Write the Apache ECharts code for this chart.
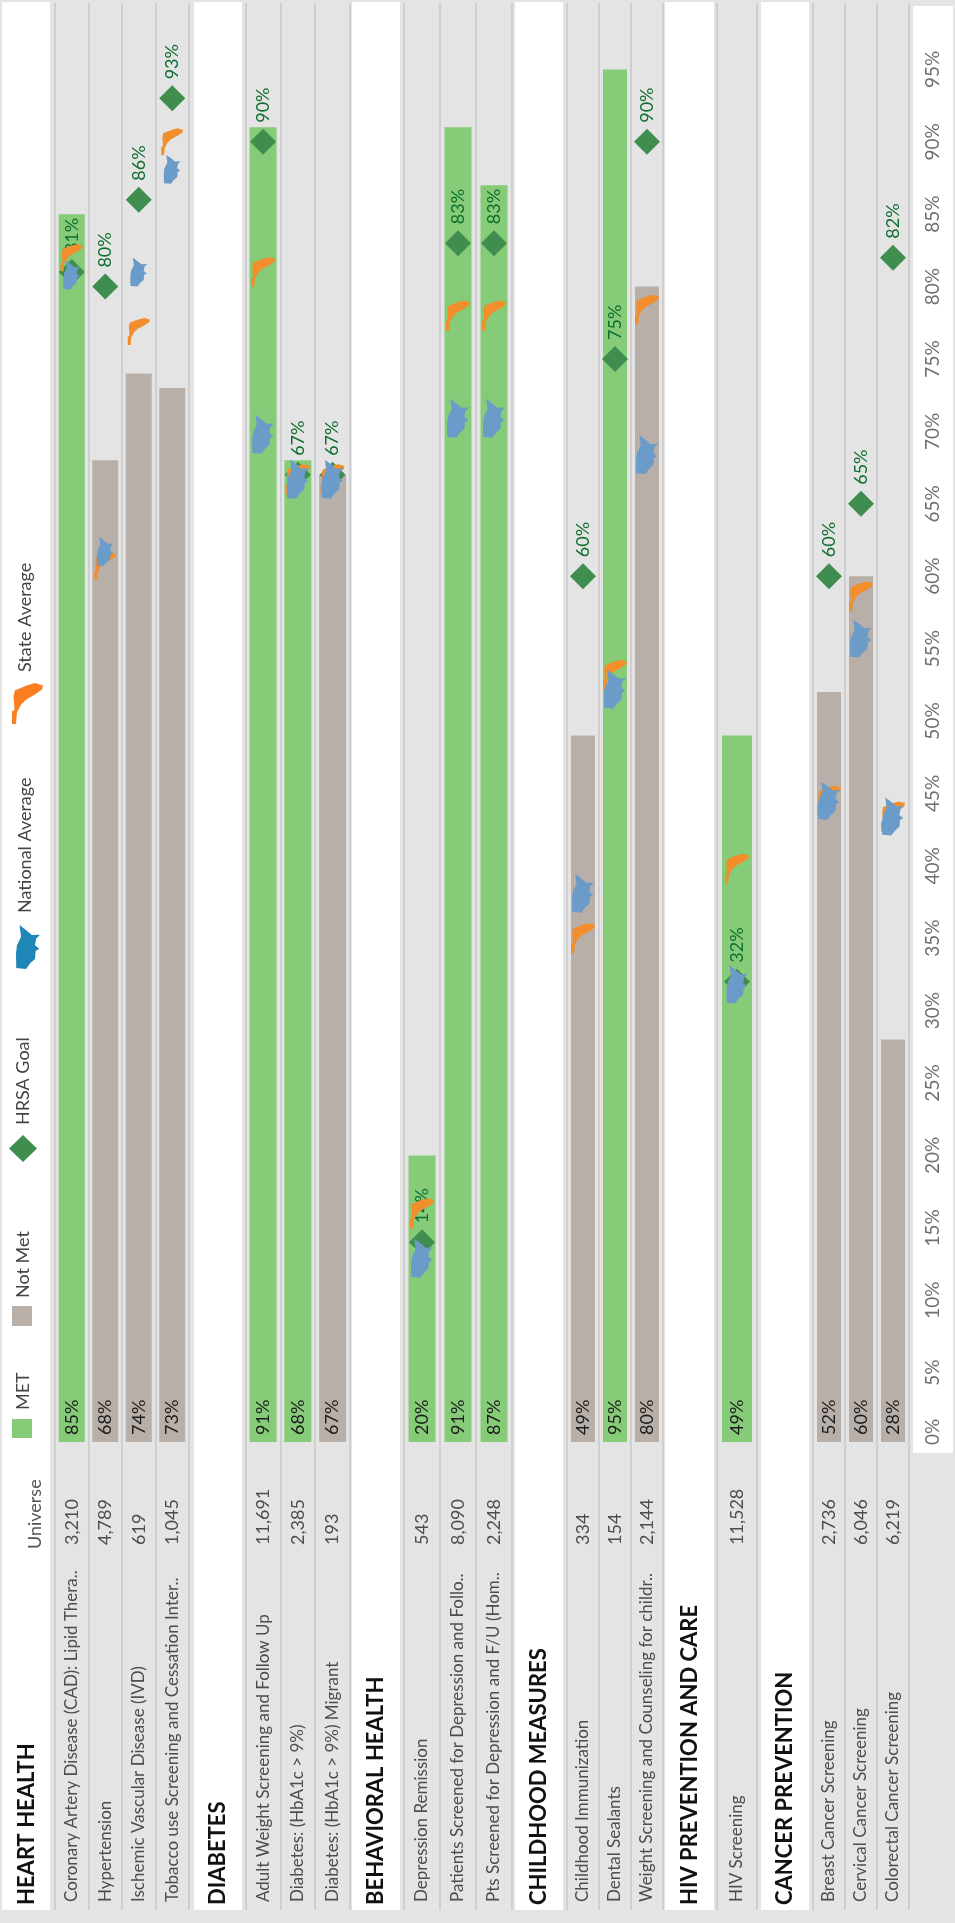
<!DOCTYPE html>
<html>
<head>
<meta charset="utf-8">
<title>Clinical quality measures</title>
<style>html,body{margin:0;padding:0;background:#e4e4e4}#chart{width:955px;height:1923px}</style>
<script src="https://cdn.jsdelivr.net/npm/echarts@6/dist/echarts.min.js"></script>
</head>
<body>
<div id="chart"></div>
<script>
// Measures, grouped by section (rowCounts says how many rows each section takes)
const sectionNames = ['HEART HEALTH','DIABETES','BEHAVIORAL HEALTH','CHILDHOOD MEASURES','HIV PREVENTION AND CARE','CANCER PREVENTION'];
const rowCounts = [4,3,3,3,1,3];
const measures = ['Coronary Artery Disease (CAD): Lipid Thera..','Hypertension','Ischemic Vascular Disease (IVD)','Tobacco use Screening and Cessation Inter..',
  'Adult Weight Screening and Follow Up','Diabetes: (HbA1c > 9%)','Diabetes: (HbA1c > 9%) Migrant',
  'Depression Remission','Patients Screened for Depression and Follo..','Pts Screened for Depression and F/U (Hom..',
  'Childhood Immunization','Dental Sealants','Weight Screening and Counseling for childr..',
  'HIV Screening',
  'Breast Cancer Screening','Cervical Cancer Screening','Colorectal Cancer Screening'];
const universe = ['3,210','4,789','619','1,045','11,691','2,385','193','543','8,090','2,248','334','154','2,144','11,528','2,736','6,046','6,219'];
const rates = [85,68,74,73,91,68,67,20,91,87,49,95,80,49,52,60,28];
const metGoal = [1,0,0,0,1,1,0,1,1,1,0,1,0,1,0,0,0];
const goals = [81,80,86,93,90,67,67,14,83,83,60,75,90,32,60,65,82];
const nationalAvg = [80.8,61.7,81,88.1,69.8,66.7,66.7,12.9,70.9,70.9,38.1,52.2,68.4,31.8,44.5,55.7,43.4];
const stateAvg = [82,60.7,76.9,90,81,66.7,66.7,16,78,78,35,53.2,78.4,39.8,44.5,58.6,43.4];
const percentTicks = {min:0, step:5};

// Pixel layout of the section panels
const rowEdges = [[55,189],[245.7,350],[404,512],[567,663],[717,757],[813,909]];
const barWidths = [26,27,27,24,30,24];
const headerX = [27,218,376,539,690,785];
const whiteBands = [[2,50],[194,242],[352,400],[515,563],[665,714],[761,809]];
const nationalSizes = [[17,29],[22,39],[22,39],[22,39],[21,38],[22,38]];
const stateSizes = [[22,27],[24,30],[24,30],[24,30],[24,30],[24,30]];

const GREEN='#85cb78', TAUPE='#b8afa9', DIAMOND='#3f8e4f', GOALTEXT='#0e6e2e';
const BLUE='#6b9cc9', ORANGE='#f28e2b', LEGEND_BLUE='#1f86b8', LEGEND_ORANGE='#fc7e22';
const FONT='Lato';

// Map silhouettes used as markers, on their side like the rest of the layout
const usaShape=[[15,0],[45,13],[66,23],[100,22],[84,31],[79,46],[97,54],[82,59],[79,77],[59,87],[42,100],[1,98],[0,65],[4,46],[21,27]];
const floridaShape=[[100,6],[74,0],[47,6],[9,18],[5,33],[8,66],[0,69],[0,100],[13,100],[16,72],[30,52],[46,40],[74,28],[97,16]];
const toSymbol=s=>'path://M'+s.map(p=>p.join(' ')).join('L')+'Z';
const fitShape=(s,x,y,w,h)=>s.map(p=>[x+p[0]/100*w, y+p[1]/100*h]);
const usaPath=toSymbol(usaShape), floridaPath=toSymbol(floridaShape);

const PX=14.48, ZERO_Y=1445, BAR_BASE_Y=1442, TOP_Y=3;
const valueMax=(ZERO_Y-TOP_Y)/PX, barMin=(ZERO_Y-BAR_BASE_Y)/PX;

const grid=[], xAxis=[], yAxis=[], series=[];
let start=0;
rowCounts.forEach((n,s)=>{
  const end=start+n;
  const idx=s, ax=s*2;
  grid.push({left:rowEdges[s][0], width:rowEdges[s][1]-rowEdges[s][0], top:TOP_Y, height:BAR_BASE_Y-TOP_Y, containLabel:false});
  xAxis.push({
    type:'category', gridIndex:idx, data:measures.slice(start,end), position:'bottom',
    axisLine:{show:false},
    axisTick:{show:true, length:468, lineStyle:{color:'#cfcfcf', width:2}},
    splitLine:{show:true, lineStyle:{color:'#cfcfcf', width:2}},
    axisLabel:{interval:0, rotate:90, align:'left', verticalAlign:'middle', margin:460, color:'#4d4d4d', fontFamily:FONT, fontSize:17}
  });
  xAxis.push({
    type:'category', gridIndex:idx, data:universe.slice(start,end), position:'bottom',
    axisLine:{show:false}, axisTick:{show:false}, splitLine:{show:false},
    axisLabel:{interval:0, rotate:90, align:'left', verticalAlign:'middle', margin:103, color:'#4d4d4d', fontFamily:FONT, fontSize:18}
  });
  yAxis.push({type:'value', gridIndex:idx, min:barMin, max:valueMax, show:false, splitLine:{show:false}});
  const barData=rates.slice(start,end).map((v,i)=>({value:v, itemStyle:{color:metGoal[start+i]?GREEN:TAUPE}}));
  series.push({
    type:'bar', name:sectionNames[s]+' rate', xAxisIndex:ax, yAxisIndex:idx, data:barData, barWidth:barWidths[s], z:2,
    label:{show:true, position:'insideBottom', distance:7, rotate:90, align:'left', verticalAlign:'middle', formatter:'{c}%', color:'#1c1c1c', fontFamily:FONT, fontSize:18}
  });
  series.push({
    type:'scatter', name:'HRSA Goal', xAxisIndex:ax, yAxisIndex:idx, data:goals.slice(start,end), symbol:'diamond', symbolSize:26, z:3,
    itemStyle:{color:DIAMOND, opacity:1},
    label:{show:true, position:'top', distance:6, rotate:90, align:'left', verticalAlign:'middle', formatter:'{c}%', color:GOALTEXT, fontFamily:FONT, fontSize:18}
  });
  series.push({
    type:'scatter', name:'State Average', xAxisIndex:ax, yAxisIndex:idx, data:stateAvg.slice(start,end), symbol:floridaPath, symbolSize:stateSizes[s], z:4,
    itemStyle:{color:ORANGE, opacity:1}
  });
  series.push({
    type:'scatter', name:'National Average', xAxisIndex:ax, yAxisIndex:idx, data:nationalAvg.slice(start,end), symbol:usaPath, symbolSize:nationalSizes[s], z:5,
    itemStyle:{color:BLUE, opacity:1}
  });
  start=end;
});

// Shared percent scale in the white box at the right edge
const scaleGrid=grid.length;
grid.push({left:940, width:13, top:TOP_Y, height:ZERO_Y-TOP_Y});
xAxis.push({type:'category', gridIndex:scaleGrid, data:[], show:false});
yAxis.push({
  type:'value', gridIndex:scaleGrid, min:percentTicks.min, max:valueMax, interval:percentTicks.step, position:'left',
  axisLine:{show:false}, axisTick:{show:false}, splitLine:{show:false},
  axisLabel:{rotate:90, align:'center', verticalAlign:'middle', margin:7, color:'#707070', fontFamily:FONT, fontSize:19, showMaxLabel:false, alignMinLabel:'left', formatter:'{value}%'}
});

// White panels, section headers and the legend
function sideText(text,x,y,size,color,weight){
  return {type:'text', x:x, y:y, rotation:Math.PI/2, z:10,
    style:{text:text, fill:color, font:(weight||'normal')+' '+size+'px '+FONT, textAlign:'left', textVerticalAlign:'middle'}};
}
const graphicItems=[];
whiteBands.forEach(b=>graphicItems.push({type:'rect', z:-10, shape:{x:b[0],y:2,width:b[1]-b[0],height:1908}, style:{fill:'#fff'}}));
graphicItems.push({type:'rect', z:-10, shape:{x:913,y:6,width:40,height:1447}, style:{fill:'#fff'}});
sectionNames.forEach((t,i)=>graphicItems.push(sideText(t,headerX[i],1905,22,'#111','bold')));
graphicItems.push(sideText('Universe',35,1549,18,'#555'));
[['MET',23,1410],['Not Met',23,1298],['HRSA Goal',23,1125],['National Average',25,913],['State Average',25,672]]
  .forEach(l=>graphicItems.push(sideText(l[0],l[1],l[2],18,'#444')));
graphicItems.push({type:'rect', z:10, shape:{x:12,y:1419,width:20,height:19}, style:{fill:GREEN}});
graphicItems.push({type:'rect', z:10, shape:{x:12,y:1306,width:20,height:20}, style:{fill:TAUPE}});
graphicItems.push({type:'polygon', z:10, shape:{points:[[23,1135],[37,1148.5],[23,1162],[9,1148.5]]}, style:{fill:DIAMOND}});
graphicItems.push({type:'polygon', z:10, shape:{points:fitShape(usaShape,16,925,24,44)}, style:{fill:LEGEND_BLUE}});
graphicItems.push({type:'polygon', z:10, shape:{points:fitShape(floridaShape,12,683,31,41)}, style:{fill:LEGEND_ORANGE}});

const chart=echarts.init(document.getElementById('chart'),null,{renderer:'canvas'});
chart.setOption({
  animation:false,
  backgroundColor:'#e4e4e4',
  grid, xAxis, yAxis, series,
  graphic:{elements:graphicItems},
  tooltip:{show:false}
});
</script>
</body>
</html>
